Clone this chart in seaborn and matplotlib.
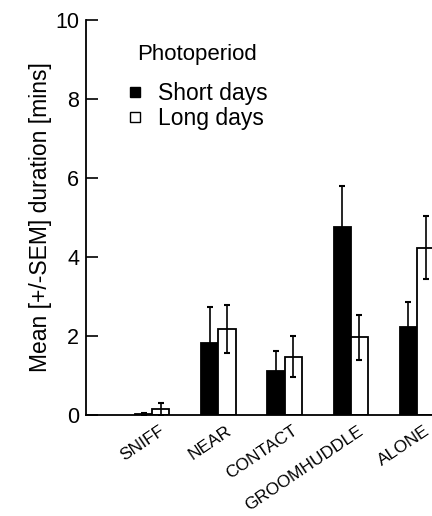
import matplotlib
matplotlib.use("Agg")
import matplotlib.pyplot as plt
import matplotlib.transforms as mtransforms
from matplotlib.lines import Line2D
import seaborn as sns
import pandas as pd

categories = ["SNIFF", "NEAR", "CONTACT", "GROOMHUDDLE", "ALONE"]
groups = ["Short days", "Long days"]
short_mean = [0.03, 1.83, 1.12, 4.75, 2.23]
short_sem = [0.02, 0.91, 0.50, 1.06, 0.62]
long_mean = [0.14, 2.18, 1.47, 1.97, 4.24]
long_sem = [0.16, 0.60, 0.52, 0.57, 0.80]
yticks = [0, 2, 4, 6, 8, 10]

sns.set_theme(style="white")
plt.rcParams['font.family'] = ['Liberation Sans', 'DejaVu Sans']
plt.rcParams['text.color'] = 'black'
plt.rcParams['axes.labelcolor'] = 'black'
plt.rcParams['xtick.color'] = 'black'
plt.rcParams['ytick.color'] = 'black'

df = pd.DataFrame({
    "behaviour": categories * 2,
    "photoperiod": [groups[0]] * len(categories) + [groups[1]] * len(categories),
    "mean": short_mean + long_mean,
    "sem": short_sem + long_sem,
})

W, H = 432, 516
fig = plt.figure(figsize=(W / 100, H / 100), dpi=100)
ax = fig.add_axes([86 / W, 101 / H, (450 - 86) / W, 395 / H])

sns.barplot(data=df, x="behaviour", y="mean", hue="photoperiod",
            order=categories, hue_order=groups,
            palette={"Short days": "black", "Long days": "white"},
            edgecolor="black", linewidth=1.3, width=0.52, errorbar=None,
            saturation=1, legend=False, ax=ax)

sems = [short_sem, long_sem]
for cont, se in zip(ax.containers, sems):
    xs = [b.get_x() + b.get_width() / 2 for b in cont]
    hs = [b.get_height() for b in cont]
    ax.errorbar(xs, hs, yerr=se, fmt="none", ecolor="black",
                elinewidth=1.2, capsize=2.5, capthick=1.5, zorder=3)

ax.set_xlim(-1.0, 4.5)
ax.set_ylim(0, 10)
ax.set_yticks(yticks)
ax.set_yticklabels([str(t) for t in yticks], fontsize=15.5)
ax.tick_params(axis="y", left=True, direction="in", length=8.5, width=1.2,
               pad=5, color="black", labelcolor="black")
ax.tick_params(axis="x", bottom=False, length=0, pad=6, labelcolor="black")
for s in ["top", "right"]:
    ax.spines[s].set_visible(False)
for s in ["left", "bottom"]:
    ax.spines[s].set_color("black")
    ax.spines[s].set_linewidth(1.3)

ax.set_xlabel("")
ax.set_ylabel("Mean [+/-SEM] duration [mins]", fontsize=16.5, labelpad=2,
              color="black")

offset = mtransforms.ScaledTranslation(7 / 100, 0, fig.dpi_scale_trans)
for lab in ax.get_xticklabels():
    lab.set_rotation(34)
    lab.set_ha("right")
    lab.set_va("top")
    lab.set_rotation_mode("anchor")
    lab.set_fontsize(12.5)
    lab.set_color("black")
    lab.set_transform(lab.get_transform() + offset)

handles = [
    Line2D([], [], marker="s", linestyle="none", markerfacecolor="black",
           markeredgecolor="black", markersize=7),
    Line2D([], [], marker="s", linestyle="none", markerfacecolor="white",
           markeredgecolor="black", markersize=7, markeredgewidth=1.0),
]
leg = ax.legend(handles, groups, title="Photoperiod", loc="upper left",
                bbox_to_anchor=(126 / W, 1 - 44 / H), bbox_transform=fig.transFigure,
                frameon=False, fontsize=16.5, title_fontsize=16,
                handlelength=0.8, handletextpad=0.6, labelspacing=0.1,
                borderaxespad=0, borderpad=0)
leg._legend_box.sep = 12
for t in leg.get_texts():
    t.set_color("black")
leg.get_title().set_color("black")

fig.savefig("out.png", dpi=100)
